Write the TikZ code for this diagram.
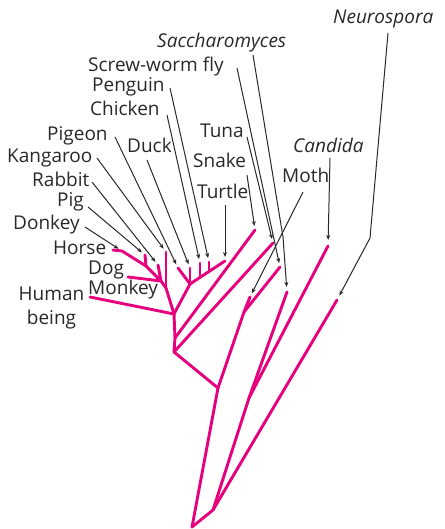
\documentclass[tikz,border=0pt]{standalone}
\usepackage{fontspec}
\setmainfont{Open Sans}
\usetikzlibrary{arrows.meta}
\definecolor{pinkc}{RGB}{230,0,126}
\definecolor{txt}{RGB}{40,40,40}
\begin{document}
\begin{tikzpicture}[x=1pt,y=-1pt,
  br/.style={draw=pinkc,line width=2.9pt,line cap=round,line join=round},
  ptr/.style={draw=txt,line width=1pt,shorten >=2.5pt,-{Stealth[length=5pt,width=4pt]}},
  lab/.style={anchor=base west,inner sep=0pt,text=txt,font=\fontsize{19}{24}\selectfont},
  ilab/.style={lab,font=\fontsize{19}{24}\selectfont\itshape}]
\useasboundingbox (0,0) rectangle (444,529);
% tree nodes
\coordinate (R) at (192,527);
\coordinate (A) at (218,388);
\coordinate (V) at (174,352);
\coordinate (TS) at (175,338);
\coordinate (MB) at (174,314);
\coordinate (M4) at (166,288);
\coordinate (M3) at (161,281);
\coordinate (M2) at (146,266);
\coordinate (M1) at (122,251);
\coordinate (B1) at (190,284);
\coordinate (Bc) at (200,277.4);
\coordinate (Bp) at (209,271.5);
\coordinate (I) at (244,312);
\coordinate (FS) at (249,398);
\coordinate (F) at (213,510);
% tips
\coordinate (tNeu) at (337,300);
\coordinate (tCan) at (328,246);
\coordinate (tSac) at (287,292);
\coordinate (tSw) at (280,267);
\coordinate (tMo) at (250,297);
\coordinate (tTu) at (273,243);
\coordinate (tSn) at (255,230);
\coordinate (tTt) at (225,261);
\coordinate (tPe) at (209,262);
\coordinate (tCh) at (200,263);
\coordinate (tDu) at (190,268);
\coordinate (tPi) at (178,268);
\coordinate (tKa) at (166,252);
\coordinate (tRa) at (158,265);
\coordinate (tPig) at (145,255);
\coordinate (tHo) at (113,250);
\coordinate (tDog) at (128,277);
\coordinate (tHu) at (90,297);
% branches
\draw[br] (R) -- (A) -- (V) -- (TS) -- (MB) -- (M4) -- (M3) -- (M2) -- (M1) -- (tHo);
\draw[br] (V) -- (tTu);
\draw[br] (TS) -- (tSn);
\draw[br] (M4) -- (tKa);
\draw[br] (M3) -- (tRa);
\draw[br] (M3) -- (tDog);
\draw[br] (M2) -- (tPig);
\draw[br] (MB) -- (tHu);
\draw[br] (MB) -- (B1) -- (tPi);
\draw[br] (B1) -- (tDu);
\draw[br] (B1) -- (Bc) -- (Bp) -- (tTt);
\draw[br] (Bc) -- (tCh);
\draw[br] (Bp) -- (tPe);
\draw[br] (A) -- (I) -- (tMo);
\draw[br] (I) -- (tSw);
\draw[br] (R) -- (F) -- (FS) -- (tSac);
\draw[br] (FS) -- (tCan);
\draw[br] (F) -- (tNeu);
% labels
\node[ilab] (lNeu) at (333,24) {Neurospora};
\node[ilab] (lSac) at (157,48) {Saccharomyces};
\node[lab] (lSw) at (88,72) {Screw-worm fly};
\node[lab] (lPe) at (92,92) {Penguin};
\node[lab] (lCh) at (90,116) {Chicken};
\node[lab] (lTu) at (200,138) {Tuna};
\node[lab] (lPi) at (47,141) {Pigeon};
\node[lab] (lDu) at (127,153) {Duck};
\node[ilab] (lCan) at (293,153) {Candida};
\node[lab] (lKa) at (7,163) {Kangaroo};
\node[lab] (lSn) at (193,168) {Snake};
\node[lab] (lMo) at (282,183) {Moth};
\node[lab] (lRa) at (32,186) {Rabbit};
\node[lab] (lTt) at (197,199) {Turtle};
\node[lab] (lPig) at (57,207) {Pig};
\node[lab] (lDo) at (13,229) {Donkey};
\node[lab] (lHo) at (53,254) {Horse};
\node[lab] (lDog) at (88,274) {Dog};
\node[lab] (lMk) at (88,294) {Monkey};
\node[lab,anchor=north,align=center] (lHu) at (51.5,287) {Human\\being};
% pointer starts
\coordinate (sNeu) at (388,33);
\coordinate (sNeuB) at (370,238);
\coordinate (sCan) at (330,158);
\coordinate (sSac) at (253,55);
\coordinate (sSacB) at (283,237);
\coordinate (sSw) at (237,68);
\coordinate (sMo) at (303,192);
\coordinate (sTu) at (247,137);
\coordinate (sSn) at (247,175);
\coordinate (sTt) at (225,205);
\coordinate (sPe) at (170,88);
\coordinate (sCh) at (167,115);
\coordinate (sDu) at (147,160);
\coordinate (sPi) at (115,137);
\coordinate (sKa) at (97,158);
\coordinate (sRa) at (92,182);
\coordinate (sPig) at (88,207);
\coordinate (sDo) at (85,227);
% pointers
\draw[ptr,shorten >=5pt] (sNeu) -- (sNeuB) -- (tNeu);
\draw[ptr,shorten >=6pt] (sCan) -- (tCan);
\draw[ptr,shorten >=5pt] (sSac) -- (sSacB) -- (tSac);
\draw[ptr,shorten >=4pt] (sSw) -- (tSw);
\draw[ptr,shorten >=4pt] (sMo) -- (tMo);
\draw[ptr,shorten >=4pt] (sTu) -- (tTu);
\draw[ptr,shorten >=4pt] (sSn) -- (tSn);
\draw[ptr,shorten >=4pt] (sTt) -- (tTt);
\draw[ptr,shorten >=4pt] (sPe) -- (tPe);
\draw[ptr,shorten >=4pt] (sCh) -- (tCh);
\draw[ptr,shorten >=4pt] (sDu) -- (tDu);
\draw[ptr,shorten >=4pt] (sPi) -- (tPi);
\draw[ptr,shorten >=4pt] (sKa) -- (tKa);
\draw[ptr,shorten >=4pt] (sRa) -- (tRa);
\draw[ptr,shorten >=4pt] (sPig) -- (tPig);
\draw[ptr,shorten >=4pt] (sDo) -- (M1);
\end{tikzpicture}
\end{document}
